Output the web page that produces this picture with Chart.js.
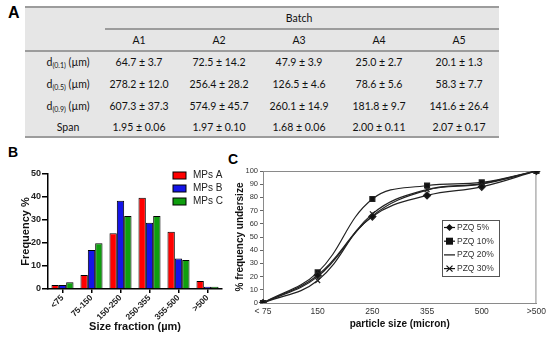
<!DOCTYPE html>
<html>
<head>
<meta charset="utf-8">
<script src="https://cdn.jsdelivr.net/npm/chart.js@4.4.1/dist/chart.umd.min.js"></script>
<style>
  body { margin: 0; background: #fff; }
  #wrap { position: relative; width: 550px; height: 338px; overflow: hidden; font-family: "Liberation Sans", Arial, sans-serif; }
  .panel { position: absolute; font-weight: bold; color: #000; }
  #tbl { position: absolute; left: 25px; top: 7px; width: 474px; height: 130px; background: #e6e6e6;
         border-collapse: collapse; font-family: Lato, sans-serif; font-size: 10.5px; color: #111; table-layout: fixed; }
  #tbl td { text-align: center; padding: 0; white-space: nowrap; }
  #tbl td.lab { padding-left: 12px; }
  #tbl sub { font-size: 7px; vertical-align: -2px; }
  .rule { position: absolute; height: 2px; background: #9c9c9c; }
  canvas { position: absolute; }
</style>
</head>
<body>
<div id="wrap">
  <div class="panel" style="left:8px;top:4px;font-size:16px;">A</div>
  <div class="panel" style="left:8px;top:144px;font-size:14px;">B</div>
  <div class="panel" style="left:228px;top:151px;font-size:14px;">C</div>
  <table id="tbl"></table>
  <div class="rule" style="left:25px;top:6px;width:474px;"></div>
  <div class="rule" style="left:105px;top:28px;width:394px;"></div>
  <div class="rule" style="left:25px;top:50px;width:474px;"></div>
  <div class="rule" style="left:25px;top:136px;width:474px;"></div>
  <canvas id="chartB" width="230" height="178" style="left:0;top:160px;"></canvas>
  <canvas id="chartC" width="322" height="178" style="left:228px;top:160px;"></canvas>
</div>
<script>
// ---- table A ----
const batches = ['A1', 'A2', 'A3', 'A4', 'A5'];
const d10Mean = [64.7, 72.5, 47.9, 25.0, 20.1];
const d10Sd = [3.7, 14.2, 3.9, 2.7, 1.3];
const d50Mean = [278.2, 256.4, 126.5, 78.6, 58.3];
const d50Sd = [12.0, 28.2, 4.6, 5.6, 7.7];
const d90Mean = [607.3, 574.9, 260.1, 181.8, 141.6];
const d90Sd = [37.3, 45.7, 14.9, 9.7, 26.4];
const spanMean = [1.95, 1.97, 1.68, 2.00, 2.07];
const spanSd = [0.06, 0.10, 0.06, 0.11, 0.17];

// ---- chart B ----
const sizeFractions = ['<75', '75-150', '150-250', '250-355', '355-500', '>500'];
const mpsA = [1.7, 6.1, 24.2, 39.7, 24.9, 3.5];
const mpsB = [1.7, 17, 38.4, 28.8, 13.3, 1];
const mpsC = [2.9, 19.9, 31.7, 31.7, 12.6, 1];

// ---- chart C ----
const particleSizes = ['< 75', '150', '250', '355', '500', '>500'];
const pzq5 = [0, 21, 65.5, 81.5, 88, 100];
const pzq10 = [0, 23.2, 78.8, 89, 91.4, 100];
const pzq20 = [0, 20, 66, 85.5, 90, 100];
const pzq30 = [0, 17, 67.5, 86, 90.5, 100];

const rowsA = [
  ['d<sub>(0.1)</sub> (µm)', d10Mean, d10Sd, 1],
  ['d<sub>(0.5)</sub> (µm)', d50Mean, d50Sd, 1],
  ['d<sub>(0.9)</sub> (µm)', d90Mean, d90Sd, 1],
  ['Span', spanMean, spanSd, 2]
];
let html = '<colgroup><col style="width:74px">' + batches.map(() => '<col style="width:80px">').join('') + '</colgroup>';
html += '<tr style="height:21px"><td></td><td colspan="5">Batch</td></tr>';
html += '<tr style="height:23px"><td></td>' + batches.map(b => '<td>' + b + '</td>').join('') + '</tr>';
rowsA.forEach((r, k) => {
  const h = k === 3 ? 20 : 22;
  html += '<tr style="height:' + h + 'px"><td class="lab">' + r[0] + '</td>' +
    r[1].map((m, i) => '<td>' + m.toFixed(r[3]) + ' ± ' + r[2][i].toFixed(r[3]) + '</td>').join('') + '</tr>';
});
document.getElementById('tbl').innerHTML = html;

const font = 'Liberation Sans';

// legend for B, drawn in the free top-right corner
const legendB = {
  id: 'legendB',
  afterDraw(chart) {
    const ctx = chart.ctx;
    ctx.save();
    ctx.font = '10px ' + font;
    ctx.textBaseline = 'middle';
    chart.data.datasets.forEach((ds, i) => {
      const y = 15.5 + i * 13;
      ctx.fillStyle = ds.backgroundColor;
      ctx.fillRect(173, y - 3.5, 13, 7);
      ctx.strokeStyle = '#000';
      ctx.lineWidth = 1;
      ctx.strokeRect(173, y - 3.5, 13, 7);
      ctx.fillStyle = '#222';
      ctx.fillText(ds.label, 193, y);
    });
    ctx.restore();
  }
};

new Chart(document.getElementById('chartB'), {
  type: 'bar',
  data: {
    labels: sizeFractions,
    datasets: [
      { label: 'MPs A', data: mpsA, backgroundColor: '#ff0000' },
      { label: 'MPs B', data: mpsB, backgroundColor: '#1414e8' },
      { label: 'MPs C', data: mpsC, backgroundColor: '#0f9e0f' }
    ]
  },
  options: {
    responsive: false,
    animation: false,
    layout: { padding: { top: 14, right: 8, left: 0, bottom: 0 } },
    datasets: { bar: { borderColor: '#000', borderWidth: 1, categoryPercentage: 0.76, barPercentage: 1 } },
    plugins: { legend: { display: false }, tooltip: { enabled: false } },
    scales: {
      x: {
        afterFit(s) { s.height = 49; },
        grid: { display: true, drawOnChartArea: false, offset: false, tickLength: 4, color: '#000', lineWidth: 1.5 },
        border: { color: '#000', width: 1.5 },
        ticks: { minRotation: 45, maxRotation: 45, padding: 0, color: '#222', font: { family: font, size: 8.5, weight: 'bold' } },
        title: { display: true, text: 'Size fraction (µm)', color: '#111', padding: { top: 0, bottom: 4 }, font: { family: font, size: 11, weight: 'bold' } }
      },
      y: {
        min: 0, max: 50,
        afterFit(s) { s.width = 48; },
        grid: { display: true, drawOnChartArea: false, tickLength: 6, color: '#000', lineWidth: 1.5 },
        border: { color: '#000', width: 1.5 },
        ticks: { stepSize: 10, padding: 1, color: '#222', font: { family: font, size: 9, weight: 'bold' } },
        title: { display: true, text: 'Frequency %', color: '#111', padding: { top: 19, bottom: 0 }, font: { family: font, size: 11, weight: 'bold' } }
      }
    }
  },
  plugins: [legendB]
});

// frame + boxed legend for C
function drawMark(ctx, style, x, y) {
  ctx.beginPath();
  if (style === 'rectRot') {
    ctx.moveTo(x, y - 3.5); ctx.lineTo(x + 3.5, y); ctx.lineTo(x, y + 3.5); ctx.lineTo(x - 3.5, y); ctx.closePath(); ctx.fill();
  } else if (style === 'rect') {
    ctx.fillRect(x - 3.5, y - 3.5, 7, 7);
  } else if (style === 'crossRot') {
    ctx.moveTo(x - 3, y - 3); ctx.lineTo(x + 3, y + 3); ctx.moveTo(x + 3, y - 3); ctx.lineTo(x - 3, y + 3); ctx.stroke();
  }
}
const frameC = {
  id: 'frameC',
  beforeDatasetsDraw(chart) {
    const a = chart.chartArea, ctx = chart.ctx;
    ctx.save();
    ctx.strokeStyle = '#8a8a8a';
    ctx.lineWidth = 1;
    ctx.strokeRect(a.left + 0.5, a.top + 0.5, a.right - a.left - 1, a.bottom - a.top);
    ctx.restore();
  },
  afterDraw(chart) {
    const ctx = chart.ctx;
    const bx = 214, by = 60, bw = 57, bh = 56;
    ctx.save();
    ctx.fillStyle = '#fff';
    ctx.fillRect(bx, by, bw, bh);
    ctx.strokeStyle = '#555';
    ctx.lineWidth = 1;
    ctx.strokeRect(bx + 0.5, by + 0.5, bw, bh);
    ctx.font = '8.5px ' + font;
    ctx.textBaseline = 'middle';
    chart.data.datasets.forEach((ds, i) => {
      const y = by + 7.5 + i * 13.7;
      ctx.strokeStyle = '#111';
      ctx.fillStyle = '#111';
      ctx.lineWidth = 1.2;
      ctx.beginPath(); ctx.moveTo(bx + 2, y); ctx.lineTo(bx + 13, y); ctx.stroke();
      drawMark(ctx, ds.pointStyle, bx + 7.5, y);
      ctx.fillStyle = '#333';
      ctx.fillText(ds.label, bx + 15, y);
    });
    ctx.restore();
  }
};

const lineDs = (label, data, style, r) => ({
  label, data, pointStyle: style, pointRadius: r, borderColor: '#222', backgroundColor: '#111',
  borderWidth: 1.2, tension: 0.4, pointBorderWidth: 1.2
});

new Chart(document.getElementById('chartC'), {
  type: 'line',
  data: {
    labels: particleSizes,
    datasets: [
      lineDs('PZQ 5%', pzq5, 'rectRot', 3.5),
      lineDs('PZQ 10%', pzq10, 'rect', 3.5),
      lineDs('PZQ 20%', pzq20, 'line', 0),
      lineDs('PZQ 30%', pzq30, 'crossRot', 3.5)
    ]
  },
  options: {
    responsive: false,
    animation: false,
    layout: { padding: { top: 11, right: 13, left: 0, bottom: 0 } },
    plugins: { legend: { display: false }, tooltip: { enabled: false } },
    scales: {
      x: {
        offset: false,
        afterFit(s) { s.height = 35; },
        grid: { display: false, drawTicks: false, tickLength: 0 },
        border: { color: '#8a8a8a', width: 1 },
        ticks: { maxRotation: 0, padding: 4, color: '#333', font: { family: font, size: 8.5 } },
        title: { display: true, text: 'particle size (micron)', color: '#111', padding: { top: 0, bottom: 8 }, font: { family: font, size: 10, weight: 'bold' } }
      },
      y: {
        min: 0, max: 100,
        afterFit(s) { s.width = 35; },
        grid: { display: true, drawOnChartArea: false, tickLength: 3, color: '#666' },
        border: { color: '#8a8a8a', width: 1 },
        ticks: { stepSize: 10, padding: 2, color: '#333', font: { family: font, size: 7.5 } },
        title: { display: true, text: '% frequency undersize', color: '#111', padding: { top: 6, bottom: 0 }, font: { family: font, size: 10, weight: 'bold' } }
      }
    }
  },
  plugins: [frameC]
});
</script>
</body>
</html>
